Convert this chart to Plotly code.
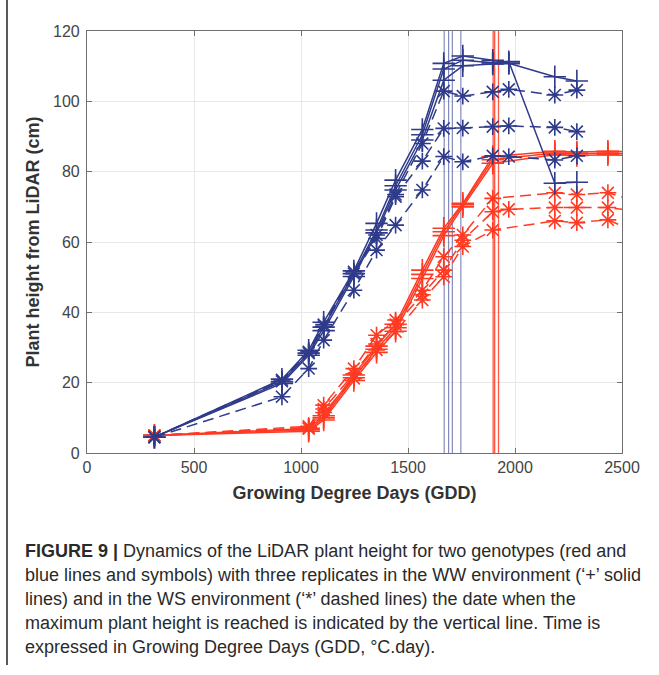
import plotly.graph_objects as go

# ---------------- data ----------------
blue_gdd = [315, 911, 1036, 1106, 1247, 1353, 1442, 1567, 1667, 1756, 1896, 1971, 2186, 2289]
red_gdd = [315, 1036, 1106, 1247, 1353, 1442, 1567, 1667, 1756, 1896, 1971, 2186, 2289, 2434, 2600]

# Blue genotype, WW ('+', solid)
blue_ww_1 = [4.5, 21.0, 29.2, 37.2, 51.8, 65.3, 77.6, 92.0, 110.8, 112.9, 111.7, 110.8, 107.0, 105.8]
blue_ww_2 = [4.5, 20.3, 28.4, 35.8, 51.0, 63.4, 76.0, 90.5, 109.2, 111.7, 111.0, 111.3, 76.7, 77.0]
blue_ww_3 = [4.5, 19.8, 27.8, 34.8, 50.2, 62.6, 74.8, 89.0, 106.0, 110.1, 110.6, 110.8, None, None]
# Blue genotype, WS ('*', dashed)
blue_ws_1 = [4.5, 20.8, 28.8, 36.5, 51.5, 62.0, 73.5, 88.0, 102.9, 101.5, 102.7, 103.4, 101.8, 103.2]
blue_ws_2 = [4.5, 20.4, 28.4, 36.0, 51.0, 61.0, 72.9, 83.0, 92.3, 92.4, 92.8, 93.0, 92.6, 91.4]
blue_ws_3 = [4.5, 16.0, 24.0, 32.1, 46.3, 57.7, 64.8, 74.8, 84.3, 82.8, 84.5, 84.3, 83.3, 84.5]

# Red genotype, WW ('+', solid)
red_ww_1 = [5.0, 7.0, 10.6, 22.2, 30.4, 36.6, 52.0, 63.9, 71.0, 84.3, None, 85.8, 85.6, 85.8, 85.6]
red_ww_2 = [5.0, 6.6, 10.0, 21.4, 29.5, 35.6, 50.8, 62.9, 70.6, 83.4, None, 85.3, 85.1, 85.3, 85.0]
red_ww_3 = [5.0, 6.2, 9.4, 20.6, 28.6, 34.6, 49.6, 61.8, 70.0, 82.4, None, 84.8, 84.6, 84.8, 84.4]
# Red genotype, WS ('*', dashed)
red_ws_1 = [5.0, 7.6, 13.6, 24.0, 33.5, 37.8, 46.3, 55.8, 62.0, 72.4, None, 74.0, 73.5, 74.0, 71.0]
red_ws_2 = [5.0, 7.2, 12.5, 22.5, 31.0, 36.5, 45.0, 52.0, 60.5, 68.6, 69.3, 69.8, 69.8, 69.8, 68.5]
red_ws_3 = [5.0, 6.9, 11.5, 21.2, 29.3, 34.5, 43.5, 50.1, 58.7, 63.4, None, 66.0, 65.5, 66.3, 62.0]

# dates of maximum plant height (vertical lines)
blue_max_gdd = [1669, 1690, 1707, 1747]
red_max_gdd = [1898, 1905, 1923]

x_ticks = [0, 500, 1000, 1500, 2000, 2500]
y_ticks = [0, 20, 40, 60, 80, 100, 120]

caption_lines = [
    "<b>FIGURE 9 |</b> Dynamics of the LiDAR plant height for two genotypes (red and",
    "blue lines and symbols) with three replicates in the WW environment (\u2018+\u2019 solid",
    "lines) and in the WS environment (\u2018*\u2019 dashed lines) the date when the",
    "maximum plant height is reached is indicated by the vertical line. Time is",
    "expressed in Growing Degree Days (GDD, \u00b0C.day).",
]

BLUE = "#2f3b8a"
RED = "#ff3a22"
FONT = "Liberation Sans, Arial, sans-serif"

fig = go.Figure()

# vertical lines
for v in blue_max_gdd:
    fig.add_trace(go.Scatter(x=[v, v], y=[0, 120], mode="lines",
                             line=dict(color=BLUE, width=1), opacity=0.7,
                             hoverinfo="skip", showlegend=False))
for v in red_max_gdd:
    fig.add_trace(go.Scatter(x=[v, v], y=[0, 120], mode="lines",
                             line=dict(color=RED, width=1.3), opacity=0.85,
                             hoverinfo="skip", showlegend=False))


def add_series(x, y, color, ww):
    fig.add_trace(go.Scatter(
        x=x, y=y, mode="lines+markers", connectgaps=True,
        line=dict(color=color, width=1.5, dash="solid" if ww else "11px,6px"),
        marker=dict(symbol="cross-thin" if ww else "asterisk", size=16 if ww else 14,
                    color=color, line=dict(color=color, width=1.6)),
        showlegend=False))


for s in [red_ws_1, red_ws_2, red_ws_3]:
    add_series(red_gdd, s, RED, False)
for s in [red_ww_1, red_ww_2, red_ww_3]:
    add_series(red_gdd, s, RED, True)
for s in [blue_ws_1, blue_ws_2, blue_ws_3]:
    add_series(blue_gdd, s, BLUE, False)
for s in [blue_ww_1, blue_ww_2, blue_ww_3]:
    add_series(blue_gdd, s, BLUE, True)

L, R, T, B = 87, 37, 31, 222
W, H = 659, 675
pw, ph = W - L - R, H - T - B


def px2paper(xp, yp):
    return (xp - L) / pw, (H - B - yp) / ph


axis_common = dict(showgrid=True, gridcolor="#e8e8e8", gridwidth=1,
                   showline=True, linecolor="#707070", linewidth=1.2,
                   mirror="ticks", ticks="inside", ticklen=5, tickcolor="#707070",
                   zeroline=False,
                   tickfont=dict(family=FONT, size=16, color="#444444"))

fig.update_xaxes(range=[0, 2500], tickvals=x_ticks,
                 title=dict(text="<b>Growing Degree Days (GDD)</b>", standoff=11,
                            font=dict(family=FONT, size=18, color="#333333")),
                 **axis_common)
fig.update_yaxes(range=[0, 120], tickvals=y_ticks, ticklabelstandoff=3,
                 title=dict(text="<b>Plant height from LiDAR (cm)</b>", standoff=8,
                            font=dict(family=FONT, size=18, color="#333333")),
                 **axis_common)

annotations = []
for i, line in enumerate(caption_lines):
    px, py = px2paper(23, 551 + 24 * i)
    annotations.append(dict(text=line, x=px, y=py, xref="paper", yref="paper",
                            xanchor="left", yanchor="middle", showarrow=False,
                            font=dict(family=FONT, size=18, color="#2a2a2a")))

x0, y0 = px2paper(7, 0)
x1, y1 = px2paper(7, 665)
shapes = [dict(type="line", xref="paper", yref="paper", x0=x0, x1=x0, y0=y0, y1=y1,
               line=dict(color="#222222", width=1.5))]

fig.update_layout(width=W, height=H, margin=dict(l=L, r=R, t=T, b=B),
                  paper_bgcolor="white", plot_bgcolor="white",
                  annotations=annotations, shapes=shapes, showlegend=False)

fig.write_html("out.html")
